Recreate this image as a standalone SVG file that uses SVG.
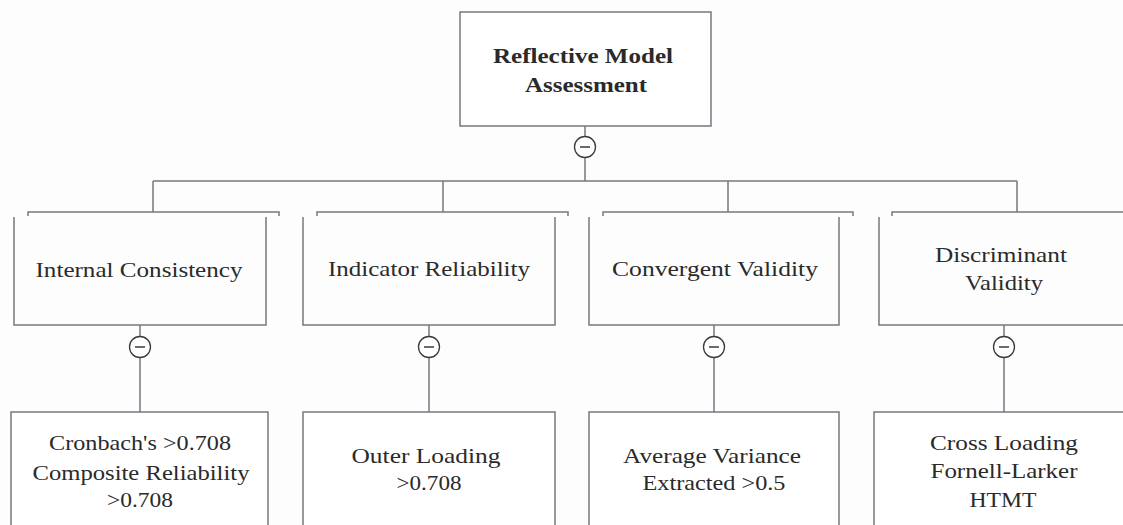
<svg xmlns="http://www.w3.org/2000/svg" width="1123" height="525" viewBox="0 0 1123 525">
<style>
.ln{fill:none;stroke:#7a7580;stroke-width:1.5}
.bx{fill:#ffffff;stroke:#7a7580;stroke-width:1.5}
.t{font-family:"Liberation Serif","Times New Roman",serif;font-size:21px;fill:#2a2a2a;text-anchor:middle}
.tb{font-family:"Liberation Serif","Times New Roman",serif;font-size:21px;font-weight:bold;fill:#2a2a2a;text-anchor:middle}
.c{fill:#ffffff;stroke:#3a3a3a;stroke-width:1.3}
.m{stroke:#3a3a3a;stroke-width:1.5}
</style>
<rect width="1123" height="525" fill="#fdfdfd"/>
<g id="connectors">
<path class="ln" d="M585,126V136M585,158V181M153,181H1017M153,181V212M443,181V212M728,181V212M1017,181V212"/>
<path class="ln" d="M140,325V336M140,358V412M429,325V336M429,358V412M714,325V336M714,358V412M1004,325V336M1004,358V412"/>
<g>
<circle class="c" cx="585" cy="147" r="10.5"/><line class="m" x1="580" y1="147" x2="590" y2="147"/>
<circle class="c" cx="140" cy="347" r="10.5"/><line class="m" x1="135" y1="347" x2="145" y2="347"/>
<circle class="c" cx="429" cy="347" r="10.5"/><line class="m" x1="424" y1="347" x2="434" y2="347"/>
<circle class="c" cx="714" cy="347" r="10.5"/><line class="m" x1="709" y1="347" x2="719" y2="347"/>
<circle class="c" cx="1004" cy="347" r="10.5"/><line class="m" x1="999" y1="347" x2="1009" y2="347"/>
</g>
</g>
<g id="root">
<rect class="bx" x="460" y="12" width="251" height="114"/>
<text class="tb" x="583" y="63" textLength="180" lengthAdjust="spacingAndGlyphs">Reflective Model</text>
<text class="tb" x="586" y="92" textLength="122" lengthAdjust="spacingAndGlyphs">Assessment</text>
</g>
<g id="internal-consistency">
<path class="ln" d="M28,216V212H279V216M14,217V325H266V217"/>
<text class="t" x="139" y="277" textLength="207" lengthAdjust="spacingAndGlyphs">Internal Consistency</text>
</g>
<g id="indicator-reliability">
<path class="ln" d="M317,216V212H568V216M303,217V325H555V217"/>
<text class="t" x="429" y="276" textLength="202" lengthAdjust="spacingAndGlyphs">Indicator Reliability</text>
</g>
<g id="convergent-validity">
<path class="ln" d="M603,216V212H853V216M589,217V325H839V217"/>
<text class="t" x="715" y="276" textLength="206" lengthAdjust="spacingAndGlyphs">Convergent Validity</text>
</g>
<g id="discriminant-validity">
<path class="ln" d="M892,216V212H1130M879,217V325H1130"/>
<text class="t" x="1001" y="262" textLength="132" lengthAdjust="spacingAndGlyphs">Discriminant</text>
<text class="t" x="1004" y="290" textLength="78" lengthAdjust="spacingAndGlyphs">Validity</text>
</g>
<g id="internal-consistency-criteria">
<rect class="bx" x="11" y="412" width="257" height="130"/>
<text class="t" x="140" y="450" textLength="182" lengthAdjust="spacingAndGlyphs">Cronbach's &gt;0.708</text>
<text class="t" x="141" y="480" textLength="217" lengthAdjust="spacingAndGlyphs">Composite Reliability</text>
<text class="t" x="140" y="507" textLength="66" lengthAdjust="spacingAndGlyphs">&gt;0.708</text>
</g>
<g id="indicator-reliability-criteria">
<rect class="bx" x="303" y="412" width="252" height="130"/>
<text class="t" x="426" y="463" textLength="149" lengthAdjust="spacingAndGlyphs">Outer Loading</text>
<text class="t" x="429" y="490" textLength="65" lengthAdjust="spacingAndGlyphs">&gt;0.708</text>
</g>
<g id="convergent-validity-criteria">
<rect class="bx" x="589" y="412" width="250" height="130"/>
<text class="t" x="712" y="463" textLength="178" lengthAdjust="spacingAndGlyphs">Average Variance</text>
<text class="t" x="714" y="490" textLength="143" lengthAdjust="spacingAndGlyphs">Extracted &gt;0.5</text>
</g>
<g id="discriminant-validity-criteria">
<rect class="bx" x="874" y="412" width="260" height="130"/>
<text class="t" x="1004" y="450" textLength="148" lengthAdjust="spacingAndGlyphs">Cross Loading</text>
<text class="t" x="1004" y="478" textLength="147" lengthAdjust="spacingAndGlyphs">Fornell-Larker</text>
<text class="t" x="1003" y="507" textLength="67" lengthAdjust="spacingAndGlyphs">HTMT</text>
</g>
</svg>
